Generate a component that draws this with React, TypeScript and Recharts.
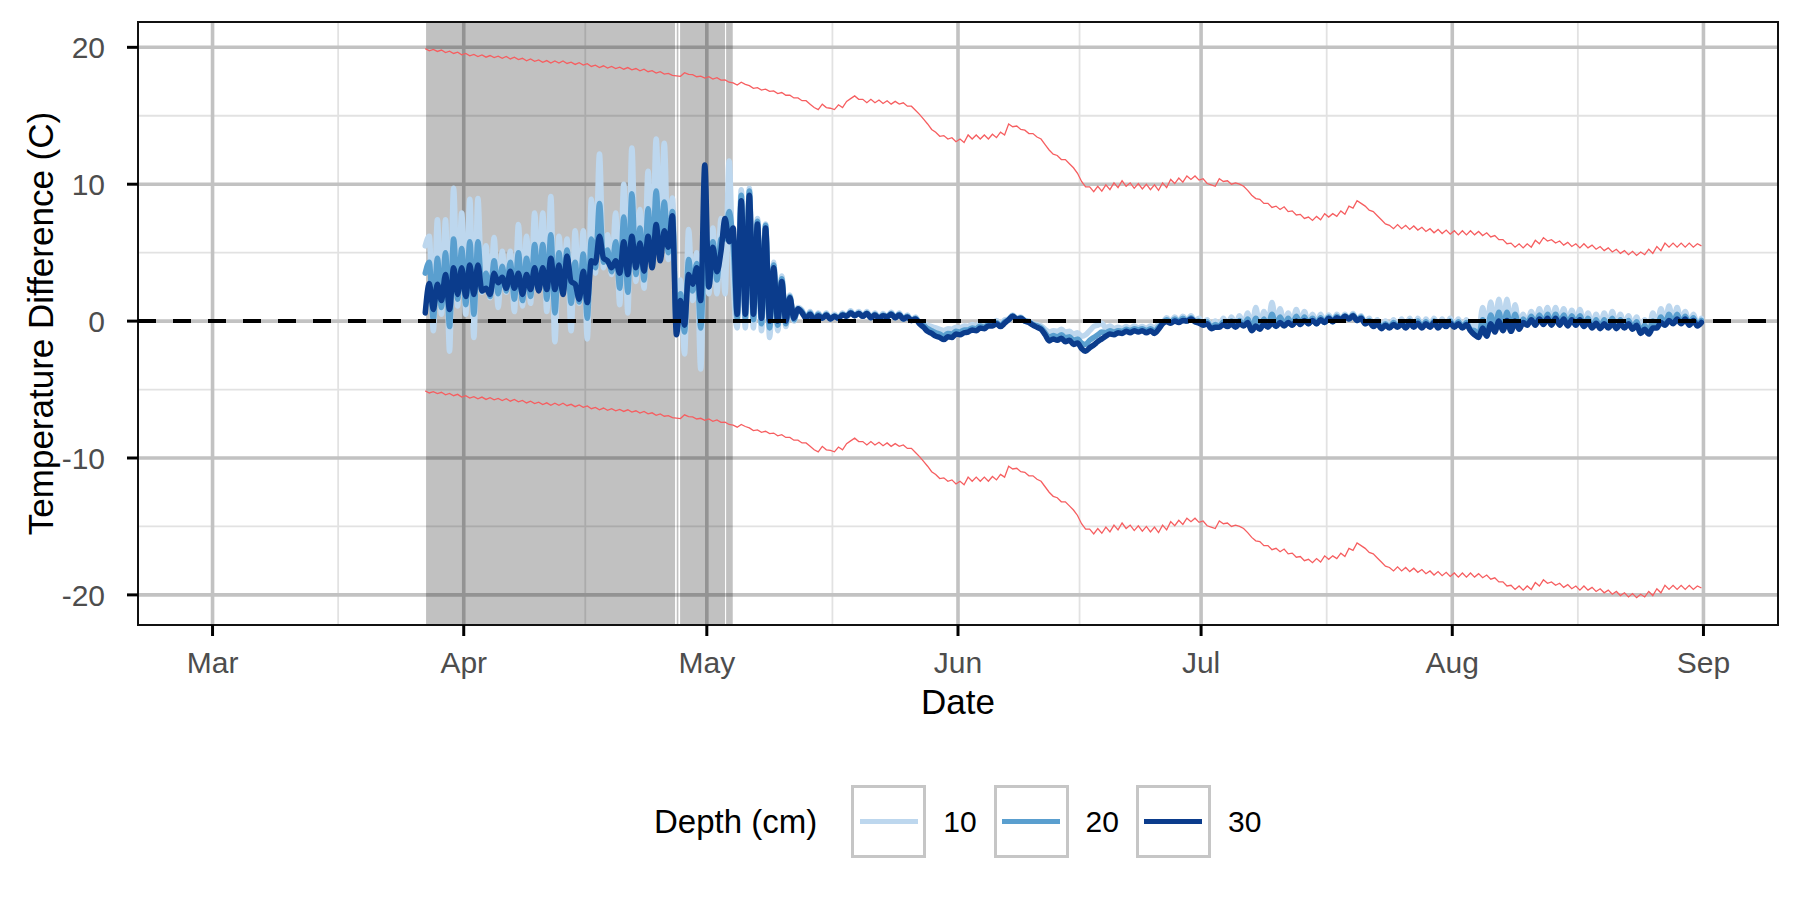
import React from "react";
import { LineChart, Line, XAxis, YAxis, CartesianGrid, ReferenceArea, Label } from "recharts";

const FONT = '"Liberation Sans", Arial, Helvetica, sans-serif';

// time axis: days since 1 March, readings every half day
const startDay = 26.25;
const stepDays = 0.5;

const monthTicks = [0, 31, 61, 92, 122, 153, 184];
const monthLabels = ["Mar", "Apr", "May", "Jun", "Jul", "Aug", "Sep"];
const monthMinor = [15.5, 46, 76.5, 107, 137.5, 168.5];
const yTicks = [-20, -10, 0, 10, 20];
const yMinor = [-15, -5, 5, 15];

// shaded periods (days since 1 March)
const shadedStart = [26.35, 57.29, 57.7, 63.38];
const shadedEnd = [57.08, 57.49, 63.25, 64.2];

const depthNames = ["10", "20", "30"];
const depthColors = ["#BDD7EE", "#5A9FCF", "#0B3C8C"];

const upperBand = [
  19.9, 19.75, 19.85, 19.7, 19.8, 19.62, 19.72, 19.55, 19.65, 19.45,
  19.55, 19.38, 19.48, 19.32, 19.45, 19.28, 19.4, 19.25, 19.35, 19.2,
  19.33, 19.15, 19.28, 19.1, 19.2, 19.02, 19.15, 18.98, 19.08, 18.9,
  19.03, 18.85, 19.0, 18.85, 19.0, 18.82, 18.92, 18.75, 18.88, 18.7,
  18.8, 18.6, 18.7, 18.52, 18.65, 18.48, 18.6, 18.45, 18.55, 18.4,
  18.52, 18.35, 18.45, 18.28, 18.4, 18.22, 18.3, 18.12, 18.22, 18.05,
  18.1, 17.95, 17.92, 17.88, 18.15, 18.02, 18.0, 17.85, 17.9, 17.75,
  17.85, 17.68, 17.78, 17.6, 17.62, 17.45, 17.4, 17.25, 17.45, 17.3,
  17.2, 17.0, 17.05, 16.88, 16.95, 16.78, 16.82, 16.62, 16.7, 16.5,
  16.5, 16.3, 16.3, 16.1, 16.1, 15.85, 15.6, 15.45, 15.85, 15.6,
  15.55, 15.45, 15.8, 15.6, 16.05, 16.25, 16.45, 16.2, 16.2, 15.95,
  16.2, 15.95, 16.15, 15.9, 16.1, 15.85, 16.05, 15.85, 15.95, 15.7,
  15.7, 15.4, 15.1, 14.75, 14.4, 14.0, 13.8, 13.5, 13.55, 13.3,
  13.4, 13.1, 13.3, 13.05, 13.6, 13.3, 13.6, 13.3, 13.6, 13.3,
  13.65, 13.4, 13.8, 13.6, 14.4, 14.2, 14.25, 14.0, 13.95, 13.7,
  13.7, 13.45, 13.3, 12.9, 12.5, 12.2, 12.1, 11.8, 11.8, 11.5,
  11.2, 10.8, 10.2, 9.8, 9.8, 9.45, 9.85, 9.5, 9.95, 9.6,
  10.1, 9.75, 10.25, 9.85, 10.1, 9.7, 10.05, 9.65, 10.0, 9.6,
  9.95, 9.55, 10.1, 9.75, 10.35, 10.05, 10.45, 10.15, 10.6, 10.35,
  10.6, 10.3, 10.4, 10.05, 9.95, 9.85, 10.4, 10.2, 10.25, 10.0,
  10.1, 10.0, 9.85, 9.55, 9.2, 8.95, 8.9, 8.6, 8.6, 8.3,
  8.4, 8.15, 8.35, 8.0, 8.05, 7.75, 7.8, 7.5, 7.6, 7.35,
  7.65, 7.4, 7.85, 7.6, 7.85, 7.65, 8.05, 7.8, 8.4, 8.25,
  8.8, 8.6, 8.4, 8.1, 8.0, 7.7, 7.4, 7.1, 7.0, 6.75,
  7.05, 6.75, 7.0, 6.7, 6.95, 6.65, 6.85, 6.55, 6.75, 6.45,
  6.7, 6.4, 6.65, 6.35, 6.6, 6.3, 6.6, 6.3, 6.6, 6.3,
  6.55, 6.25, 6.45, 6.15, 6.25, 5.95, 5.95, 5.65, 5.7, 5.4,
  5.65, 5.35, 5.65, 5.4, 5.9, 5.65, 6.1, 5.85, 5.95, 5.7,
  5.85, 5.55, 5.75, 5.45, 5.65, 5.35, 5.65, 5.35, 5.55, 5.25,
  5.45, 5.15, 5.35, 5.05, 5.25, 4.95, 5.15, 4.85, 5.1, 4.8,
  5.05, 4.85, 5.25, 4.95, 5.45, 5.15, 5.7, 5.4, 5.7, 5.4,
  5.7, 5.4, 5.7, 5.4, 5.65, 5.5,
];

const lowerBand = [
  -5.1, -5.25, -5.15, -5.3, -5.2, -5.38, -5.28, -5.45, -5.35, -5.55,
  -5.45, -5.62, -5.52, -5.68, -5.55, -5.72, -5.6, -5.75, -5.65, -5.8,
  -5.67, -5.85, -5.72, -5.9, -5.8, -5.98, -5.85, -6.02, -5.92, -6.1,
  -5.97, -6.15, -6.0, -6.15, -6.0, -6.18, -6.08, -6.25, -6.12, -6.3,
  -6.2, -6.4, -6.3, -6.48, -6.35, -6.52, -6.4, -6.55, -6.45, -6.6,
  -6.48, -6.65, -6.55, -6.72, -6.6, -6.78, -6.7, -6.88, -6.78, -6.95,
  -6.9, -7.05, -7.08, -7.12, -6.85, -6.98, -7.0, -7.15, -7.1, -7.25,
  -7.15, -7.32, -7.22, -7.4, -7.38, -7.55, -7.6, -7.75, -7.55, -7.7,
  -7.8, -8.0, -7.95, -8.12, -8.05, -8.22, -8.18, -8.38, -8.3, -8.5,
  -8.5, -8.7, -8.7, -8.9, -8.9, -9.15, -9.4, -9.55, -9.15, -9.4,
  -9.45, -9.55, -9.2, -9.4, -8.95, -8.75, -8.55, -8.8, -8.8, -9.05,
  -8.8, -9.05, -8.85, -9.1, -8.9, -9.15, -8.95, -9.15, -9.05, -9.3,
  -9.3, -9.6, -9.9, -10.25, -10.6, -11.0, -11.2, -11.5, -11.45, -11.7,
  -11.6, -11.9, -11.7, -11.95, -11.4, -11.7, -11.4, -11.7, -11.4, -11.7,
  -11.35, -11.6, -11.2, -11.4, -10.6, -10.8, -10.75, -11.0, -11.05, -11.3,
  -11.3, -11.55, -11.7, -12.1, -12.5, -12.8, -12.9, -13.2, -13.2, -13.5,
  -13.8, -14.2, -14.8, -15.2, -15.2, -15.55, -15.15, -15.5, -15.05, -15.4,
  -14.9, -15.25, -14.75, -15.15, -14.9, -15.3, -14.95, -15.35, -15.0, -15.4,
  -15.05, -15.45, -14.9, -15.25, -14.65, -14.95, -14.55, -14.85, -14.4, -14.65,
  -14.4, -14.7, -14.6, -14.95, -15.05, -15.15, -14.6, -14.8, -14.75, -15.0,
  -14.9, -15.0, -15.15, -15.45, -15.8, -16.05, -16.1, -16.4, -16.4, -16.7,
  -16.6, -16.85, -16.65, -17.0, -16.95, -17.25, -17.2, -17.5, -17.4, -17.65,
  -17.35, -17.6, -17.15, -17.4, -17.15, -17.35, -16.95, -17.2, -16.6, -16.75,
  -16.2, -16.4, -16.6, -16.9, -17.0, -17.3, -17.6, -17.9, -18.0, -18.25,
  -17.95, -18.25, -18.0, -18.3, -18.05, -18.35, -18.15, -18.45, -18.25, -18.55,
  -18.3, -18.6, -18.35, -18.65, -18.4, -18.7, -18.4, -18.7, -18.4, -18.7,
  -18.45, -18.75, -18.55, -18.85, -18.75, -19.05, -19.05, -19.35, -19.3, -19.6,
  -19.35, -19.65, -19.35, -19.6, -19.1, -19.35, -18.9, -19.15, -19.05, -19.3,
  -19.15, -19.45, -19.25, -19.55, -19.35, -19.65, -19.35, -19.65, -19.45, -19.75,
  -19.55, -19.85, -19.65, -19.95, -19.75, -20.05, -19.85, -20.15, -19.9, -20.2,
  -19.95, -20.15, -19.75, -20.05, -19.55, -19.85, -19.3, -19.6, -19.3, -19.6,
  -19.3, -19.6, -19.3, -19.6, -19.35, -19.5,
];

const depth10 = [
  5.5, 6.2, -0.7, 7.4, 0.5, 7.4, -2.2, 9.7, 1.1, 7.9,
  0.5, 8.9, -1.2, 8.95, 2.1, 5.5, 1.7, 6.1, 1.0, 5.1,
  2.1, 5.1, 0.7, 7.05, 1.1, 6.2, 1.3, 7.9, 2.55, 7.9,
  0.7, 9.1, -1.5, 6.2, 2.4, 6.0, -0.7, 6.6, 1.3, 6.6,
  -1.3, 8.9, 3.5, 12.2, 3.9, 6.3, 3.4, 7.9, 1.2, 10.0,
  0.6, 12.65, 2.9, 8.15, 2.4, 10.95, 4.1, 13.3, 5.5, 13.0,
  4.5, 9.0, 0.5, 3.0, -2.4, 6.7, 1.5, 5.0, -3.5, 6.0,
  2.0, 6.8, 2.0, 7.5, 2.0, 11.7, 3.0, -0.5, 9.6, -0.5,
  9.7, -0.5, 7.5, -0.7, 7.1, -1.2, 4.3, -0.7, 3.3, -0.4,
  1.9, 0.0, 1.0,
  0.8,
  0.2, 0.7, 0.1, 0.6, 0.2, 0.6, 0.15, 0.5, 0.2, 0.6,
  0.35, 0.75, 0.4, 0.7, 0.35, 0.7, 0.25, 0.6, 0.2, 0.55,
  0.3, 0.65, 0.25, 0.6, 0.15, 0.45, 0.05, 0.3, -0.1, -0.15,
  -0.3, -0.4, -0.5, -0.6, -0.7, -0.55, -0.6, -0.45, -0.5, -0.35,
  -0.4, -0.25, -0.35, -0.15, -0.3, -0.1, -0.2, 0.05, -0.25, 0.1,
  0.15, 0.45, 0.2, 0.3, 0.05, 0.0, -0.2, -0.25, -0.35, -0.6,
  -0.8, -0.7, -0.75, -0.6, -0.8, -0.75, -0.95, -0.85, -1.1, -1.0,
  -0.7, -0.4, -0.3, -0.15, -0.5, -0.35, -0.55, -0.45, -0.55, -0.4,
  -0.55, -0.35, -0.5, -0.4, -0.55, -0.35, -0.55, -0.2, -0.1, 0.25,
  -0.05, 0.3, 0.0, 0.35, 0.05, 0.4, 0.0, 0.2, -0.2, 0.1,
  -0.4, 0.0, -0.35, 0.2, -0.3, 0.3, -0.35, 0.4, -0.3, 0.6,
  -0.6, 1.0, -0.5, 0.7, -0.35, 1.35, -0.3, 0.9, -0.3, 0.6,
  -0.25, 0.85, -0.2, 0.7, -0.15, 0.5, -0.15, 0.5, -0.05, 0.45,
  0.0, 0.5, 0.1, 0.5, 0.15, 0.55, 0.05, 0.4, -0.15, 0.2,
  -0.3, 0.1, -0.45, 0.0, -0.4, 0.1, -0.35, 0.15, -0.4, 0.2,
  -0.35, 0.2, -0.4, 0.15, -0.35, 0.2, -0.4, 0.15, -0.3, 0.2,
  -0.35, 0.15, -0.4, 0.1, -0.55, -0.2, -0.9, 1.0, -0.8, 1.4,
  -0.6, 1.6, -0.5, 1.6, -0.55, 1.2, -0.45, 0.5, -0.2, 0.7,
  -0.2, 0.9, -0.15, 1.0, -0.2, 1.0, -0.2, 0.9, -0.25, 0.8,
  -0.2, 0.85, -0.3, 0.6, -0.4, 0.5, -0.45, 0.6, -0.4, 0.7,
  -0.45, 0.5, -0.4, 0.4, -0.5, 0.3, -0.7, 0.1, -0.7, 0.6,
  -0.4, 0.9, -0.2, 1.1, -0.1, 1.0, -0.1, 0.7, -0.2, 0.5,
  -0.3, 0.2,
];

const depth20 = [
  3.5, 4.3, 0.1, 4.6, 1.0, 5.0, -0.4, 6.0, 1.6, 5.3,
  1.2, 5.8, 0.5, 5.8, 2.2, 3.5, 1.8, 4.4, 2.0, 4.0,
  2.2, 4.3, 1.6, 5.0, 1.5, 4.6, 1.8, 5.6, 2.3, 5.6,
  1.6, 6.3, 0.6, 5.0, 2.1, 5.2, 1.3, 4.3, 1.4, 4.9,
  0.2, 6.0, 3.9, 8.6, 4.3, 5.2, 3.6, 5.8, 2.4, 7.6,
  2.1, 9.3, 3.4, 6.8, 3.0, 8.2, 4.0, 9.5, 4.9, 8.7,
  5.0, 8.0, -0.3, 2.0, -0.8, 4.5, 2.2, 4.2, -0.5, 5.0,
  2.5, 5.8, 3.0, 6.0, 6.0, 8.0, 5.5, 0.2, 9.2, 0.2,
  9.5, 0.1, 7.3, -0.2, 7.0, -0.5, 4.1, -0.3, 3.1, -0.2,
  1.8, 0.1, 0.9,
  0.7,
  0.2, 0.6, 0.1, 0.5, 0.2, 0.5, 0.15, 0.4, 0.2, 0.5,
  0.35, 0.65, 0.4, 0.6, 0.35, 0.6, 0.25, 0.5, 0.2, 0.45,
  0.3, 0.55, 0.25, 0.5, 0.15, 0.35, 0.05, 0.2, -0.15, -0.3,
  -0.55, -0.7, -0.85, -0.95, -1.1, -0.9, -0.95, -0.75, -0.8, -0.65,
  -0.65, -0.5, -0.55, -0.35, -0.45, -0.25, -0.3, -0.1, -0.35, -0.05,
  0.1, 0.4, 0.15, 0.25, 0.0, -0.05, -0.25, -0.35, -0.5, -0.85,
  -1.2, -1.05, -1.15, -1.0, -1.2, -1.15, -1.4, -1.3, -1.6, -1.7,
  -1.4, -1.2, -1.0, -0.8, -0.85, -0.7, -0.8, -0.7, -0.75, -0.6,
  -0.7, -0.55, -0.65, -0.55, -0.7, -0.55, -0.75, -0.45, -0.15, 0.1,
  -0.1, 0.15, -0.05, 0.2, 0.0, 0.25, -0.05, 0.0, -0.25, -0.05,
  -0.5, -0.25, -0.4, -0.05, -0.35, 0.0, -0.4, 0.05, -0.3, 0.15,
  -0.65, 0.2, -0.55, 0.15, -0.4, 0.5, -0.35, 0.3, -0.3, 0.2,
  -0.3, 0.35, -0.25, 0.3, -0.2, 0.2, -0.2, 0.25, -0.1, 0.3,
  -0.05, 0.35, 0.1, 0.4, 0.15, 0.45, 0.05, 0.3, -0.2, 0.05,
  -0.35, -0.05, -0.5, -0.2, -0.45, -0.1, -0.4, -0.05, -0.45, 0.0,
  -0.4, 0.0, -0.45, -0.05, -0.4, 0.0, -0.45, -0.05, -0.35, 0.0,
  -0.4, -0.05, -0.45, -0.1, -0.65, -0.7, -1.1, 0.1, -1.0, 0.45,
  -0.7, 0.65, -0.6, 0.65, -0.65, 0.5, -0.55, 0.15, -0.25, 0.35,
  -0.25, 0.45, -0.2, 0.5, -0.25, 0.5, -0.25, 0.45, -0.3, 0.4,
  -0.25, 0.4, -0.35, 0.2, -0.45, 0.1, -0.5, 0.1, -0.45, 0.2,
  -0.5, 0.1, -0.45, 0.05, -0.55, -0.05, -0.8, -0.3, -0.85, 0.0,
  -0.45, 0.3, -0.25, 0.5, -0.15, 0.5, -0.15, 0.35, -0.25, 0.25,
  -0.3, 0.05,
];

const depth30 = [
  0.6, 2.75, 0.85, 2.7, 1.5, 3.4, 0.85, 3.9, 1.95, 3.9,
  1.8, 4.1, 1.95, 4.1, 2.2, 2.4, 1.95, 3.5, 2.8, 3.2,
  2.4, 3.65, 2.4, 3.5, 1.95, 3.4, 2.3, 3.9, 2.2, 3.9,
  2.3, 4.6, 2.3, 4.1, 1.95, 4.75, 2.9, 2.7, 1.6, 3.65,
  1.35, 4.4, 4.25, 6.2, 4.6, 4.4, 3.9, 4.4, 3.5, 5.8,
  3.4, 6.2, 3.9, 5.7, 3.65, 6.2, 3.9, 7.05, 4.4, 6.6,
  5.4, 7.7, -1.0, 1.5, -0.3, 3.4, 2.7, 3.9, 1.5, 11.4,
  2.5, 5.4, 3.6, 5.1, 7.5, 5.8, 6.8, 0.5, 8.8, 0.5,
  9.2, 0.5, 7.1, 0.2, 6.8, 0.0, 3.9, 0.0, 2.9, 0.0,
  1.7, 0.2, 0.9,
  0.6,
  0.2, 0.5, 0.1, 0.4, 0.2, 0.45, 0.15, 0.35, 0.2, 0.45,
  0.35, 0.6, 0.4, 0.55, 0.35, 0.55, 0.25, 0.45, 0.2, 0.4,
  0.3, 0.5, 0.25, 0.45, 0.15, 0.3, 0.05, 0.15, -0.2, -0.45,
  -0.75, -0.9, -1.1, -1.2, -1.35, -1.15, -1.2, -0.95, -1.0, -0.85,
  -0.8, -0.65, -0.7, -0.5, -0.55, -0.35, -0.35, -0.2, -0.4, -0.15,
  0.1, 0.35, 0.15, 0.2, 0.0, -0.1, -0.3, -0.45, -0.6, -1.0,
  -1.45, -1.3, -1.4, -1.25, -1.5, -1.4, -1.7, -1.6, -2.0, -2.2,
  -1.95, -1.75, -1.5, -1.3, -1.1, -0.95, -1.0, -0.85, -0.9, -0.75,
  -0.85, -0.7, -0.8, -0.7, -0.85, -0.7, -0.9, -0.6, -0.2, -0.05,
  -0.15, 0.0, -0.1, 0.05, 0.0, 0.15, -0.05, -0.15, -0.3, -0.2,
  -0.55, -0.45, -0.45, -0.25, -0.4, -0.2, -0.45, -0.2, -0.35, -0.1,
  -0.7, -0.35, -0.6, -0.2, -0.45, -0.1, -0.4, -0.1, -0.35, -0.1,
  -0.3, 0.0, -0.25, 0.05, -0.2, 0.05, -0.2, 0.1, -0.1, 0.2,
  -0.05, 0.25, 0.1, 0.35, 0.15, 0.4, 0.05, 0.2, -0.2, -0.05,
  -0.4, -0.2, -0.55, -0.3, -0.5, -0.25, -0.45, -0.2, -0.5, -0.15,
  -0.45, -0.15, -0.5, -0.2, -0.45, -0.1, -0.5, -0.2, -0.4, -0.15,
  -0.45, -0.2, -0.5, -0.25, -0.7, -1.0, -1.2, -0.5, -1.1, -0.2,
  -0.8, 0.0, -0.7, 0.05, -0.75, 0.0, -0.6, -0.1, -0.3, 0.1,
  -0.3, 0.15, -0.25, 0.2, -0.3, 0.2, -0.3, 0.15, -0.35, 0.1,
  -0.3, 0.1, -0.4, -0.05, -0.5, -0.15, -0.55, -0.2, -0.5, -0.15,
  -0.55, -0.2, -0.5, -0.2, -0.6, -0.3, -0.9, -0.6, -0.95, -0.5,
  -0.5, -0.1, -0.3, 0.05, -0.2, 0.15, -0.2, 0.15, -0.3, 0.05,
  -0.35, -0.1,
];

const xDomain = [-9.2, 193.2];
const yDomain = [-22.2, 21.85];

const toPoints = (vals: number[]) => vals.map((v, i) => ({ t: startDay + i * stepDays, v }));
const depthSeries = [depth10, depth20, depth30].map(toPoints);
const zeroLine = [{ t: xDomain[0], v: 0 }, { t: xDomain[1], v: 0 }];

const XTitle = ({ viewBox }: any) => (
  <text x={viewBox.x + viewBox.width / 2} y={viewBox.y + 76} textAnchor="middle" dominantBaseline="central"
    fontSize={35} fontFamily={FONT} fill="#000">Date</text>
);

const YTitle = ({ viewBox }: any) => {
  const cy = viewBox.y + viewBox.height / 2;
  return (
    <text x={40} y={cy} transform={`rotate(-90, 40, ${cy})`} textAnchor="middle" dominantBaseline="central"
      fontSize={35} fontFamily={FONT} fill="#000">Temperature Difference (C)</text>
  );
};

function DepthLegend() {
  return (
    <div style={{ position: "absolute", left: 654, top: 785, height: 73, display: "flex", alignItems: "center", fontFamily: FONT, color: "#000" }}>
      <span style={{ fontSize: 33, marginRight: 34, whiteSpace: "nowrap" }}>Depth (cm)</span>
      {depthNames.map((d, i) => (
        <div key={d} style={{ display: "flex", alignItems: "center", marginRight: 17 }}>
          <div style={{ width: 75, height: 73, boxSizing: "border-box", border: "3.5px solid #C6C6C6", display: "flex", alignItems: "center", justifyContent: "center" }}>
            <div style={{ width: 58, height: 4.5, background: depthColors[i] }} />
          </div>
          <span style={{ fontSize: 30, marginLeft: 17 }}>{d}</span>
        </div>
      ))}
    </div>
  );
}

export default function App() {
  return (
    <div style={{ position: "relative", width: 1800, height: 900, background: "#fff" }}>
      <style>{"body{margin:0}"}</style>
      <LineChart width={1800} height={900} margin={{ top: 22, right: 22, bottom: 215, left: 0 }}>
        <CartesianGrid horizontalValues={yMinor} verticalValues={monthMinor} stroke="#E2E2E2" strokeWidth={1.8} />
        <CartesianGrid horizontalValues={yTicks} verticalValues={monthTicks} stroke="#C2C2C2" strokeWidth={3.6} />
        <XAxis type="number" dataKey="t" domain={xDomain} ticks={monthTicks} interval={0} allowDataOverflow
          tickFormatter={(v: number) => monthLabels[monthTicks.indexOf(v)]}
          height={60} tickSize={11} tickMargin={16} axisLine={false}
          tickLine={{ stroke: "#000", strokeWidth: 3 }}
          tick={{ fill: "#4D4D4D", fontSize: 30, fontFamily: FONT }}>
          <Label content={XTitle} />
        </XAxis>
        <YAxis type="number" dataKey="v" domain={yDomain} ticks={yTicks} interval={0} allowDataOverflow
          width={138} tickSize={11} tickMargin={22} axisLine={false}
          tickLine={{ stroke: "#000", strokeWidth: 3 }}
          tick={{ fill: "#4D4D4D", fontSize: 30, fontFamily: FONT }}>
          <Label content={YTitle} />
        </YAxis>
        {shadedStart.map((s, i) => (
          <ReferenceArea key={i} x1={s} x2={shadedEnd[i]} fill="#000" fillOpacity={0.245} stroke="none" />
        ))}
        <ReferenceArea x1={xDomain[0]} x2={xDomain[1]} y1={yDomain[0]} y2={yDomain[1]}
          fill="none" fillOpacity={0} stroke="#111" strokeWidth={2} ifOverflow="visible" />
        <Line data={toPoints(upperBand)} dataKey="v" type="linear" stroke="#F65E60" strokeWidth={1.3} dot={false} activeDot={false} isAnimationActive={false} />
        <Line data={toPoints(lowerBand)} dataKey="v" type="linear" stroke="#F65E60" strokeWidth={1.3} dot={false} activeDot={false} isAnimationActive={false} />
        {depthSeries.map((pts, i) => (
          <Line key={depthNames[i]} data={pts} dataKey="v" type="monotone" stroke={depthColors[i]} strokeWidth={5.5}
            strokeLinejoin="round" strokeLinecap="round" dot={false} activeDot={false} isAnimationActive={false} />
        ))}
        <Line data={zeroLine} dataKey="v" type="linear" stroke="#000" strokeWidth={4} strokeDasharray="18 17" dot={false} activeDot={false} isAnimationActive={false} />
      </LineChart>
      <DepthLegend />
    </div>
  );
}
